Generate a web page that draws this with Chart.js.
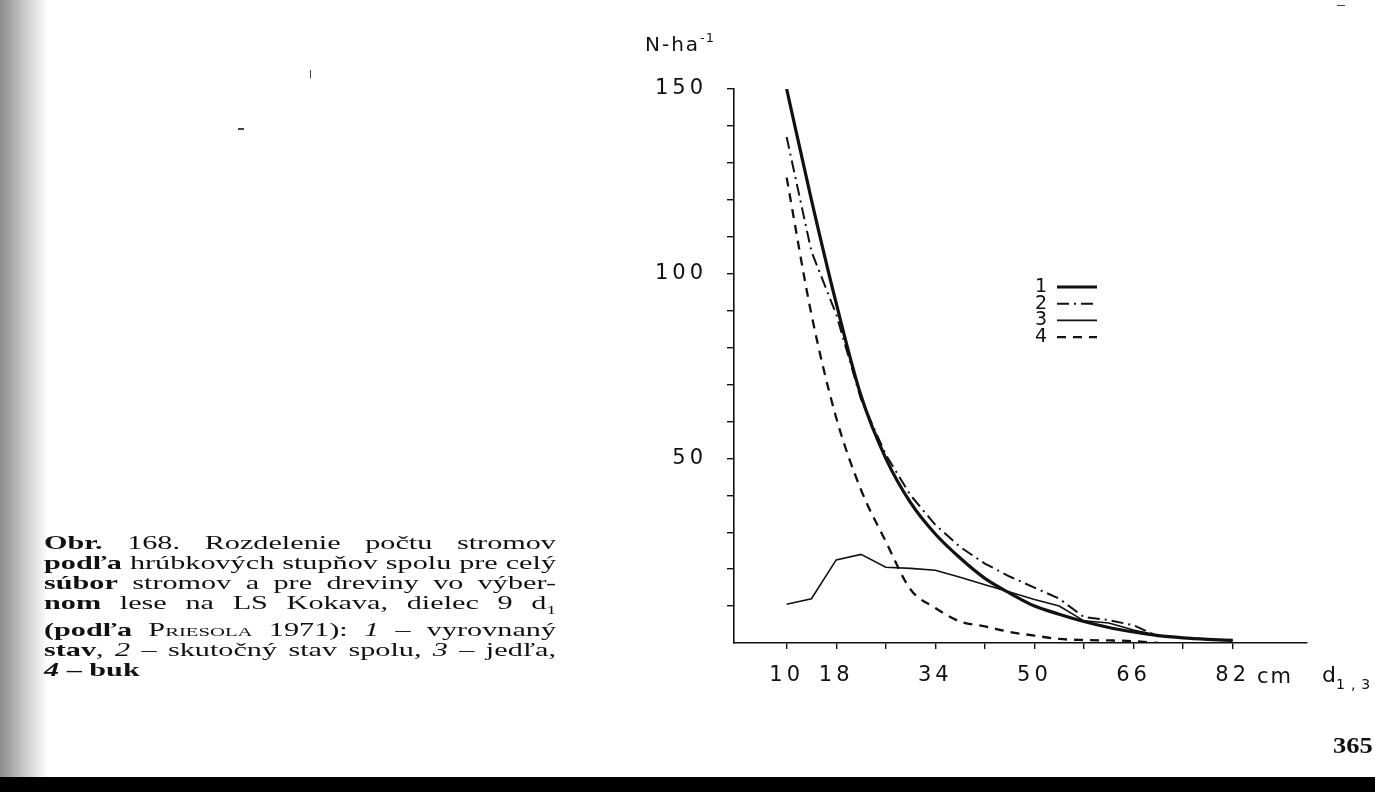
<!DOCTYPE html>
<html>
<head>
<meta charset="utf-8">
<script src="https://cdn.jsdelivr.net/npm/chart.js@4.4.1/dist/chart.umd.min.js"></script>
<style>
  html, body { margin: 0; padding: 0; background: #fff; }
  body { width: 1375px; height: 792px; position: relative; overflow: hidden; color: #111; font-family: "DejaVu Sans", sans-serif; }
  #scan { position: absolute; left: 0; top: 0; width: 48px; height: 777px;
          background: linear-gradient(to right, #8c8c8c 0, #a4a4a4 10px, #c4c4c4 22px, #e4e4e4 36px, #fff 48px); }
  #bar { position: absolute; left: 0; top: 777px; width: 1375px; height: 15px; background: #000; }
  #c { position: absolute; left: 0; top: 0; }
  .txt { position: absolute; white-space: nowrap; }
  #ytitle { left: 645px; top: 30px; font-size: 20px; letter-spacing: 2px; }
  #ytitle sup { font-size: 13px; vertical-align: 9px; letter-spacing: 1px; }
  #cm { left: 1257px; top: 664px; font-size: 21px; letter-spacing: 2px; }
  #dlab { left: 1322px; top: 662px; font-size: 22px; }
  #dlab sub { font-size: 14px; letter-spacing: 6px; vertical-align: -7px; }
  #page { left: 1333px; top: 733px; font: bold 23px "Liberation Serif", serif; transform: scaleX(1.15); transform-origin: 0 0; }
  #caption { position: absolute; left: 44px; top: 533px; transform-origin: 0 0;
             font-family: "Liberation Serif", serif; font-size: 19px; line-height: 20px; color: #111; }
  #caption div { text-align: justify; text-align-last: justify; }
  #caption div.last { text-align-last: left; }
  .sc { font-variant: small-caps; }
  .mark { position: absolute; background: #444; }
</style>
</head>
<body>
<div id="scan"></div>
<div id="bar"></div>
<canvas id="c" width="1375" height="792"></canvas>

<div class="txt" id="ytitle">N-ha<sup>-1</sup></div>
<div class="txt" id="cm">cm</div>
<div class="txt" id="dlab">d<sub>1,3</sub></div>
<div class="txt" id="page">365</div>
<div class="mark" style="left:310px;top:70px;width:1px;height:8px"></div>
<div class="mark" style="left:238px;top:128px;width:6px;height:1.5px"></div>
<div class="mark" style="left:1337px;top:5px;width:8px;height:1px"></div>

<div id="caption">
  <div><b>Obr.</b> 168. Rozdelenie počtu stromov</div>
  <div><b>podľa</b> hrúbkových stupňov spolu pre celý</div>
  <div><b>súbor</b> stromov a pre dreviny vo výber-</div>
  <div><b>nom</b> lese na LS Kokava, dielec 9 d<sub style="font-size:12px">1</sub></div>
  <div><b>(podľa</b> <span class="sc">Priesola</span> 1971): <i>1</i> – vyrovnaný</div>
  <div><b>stav</b>, <i>2</i> – skutočný stav spolu, <i>3</i> – jedľa,</div>
  <div class="last"><b><i>4</i> – buk</b></div>
</div>

<script>
// hrubkove stupne (cm) a pocty stromov na ha
const diameters = [10, 14, 18, 22, 26, 30, 34, 38, 42, 46, 50, 54, 58, 62, 66, 70, 74, 78, 82];
const xTicks = [10, 18, 26, 34, 42, 50, 58, 66, 74, 82];
const xLabels = [10, 18, 34, 50, 66, 82];
const yLabels = [50, 100, 150];
const seriesNames = ['1', '2', '3', '4'];

// 1 - vyrovnany stav
const balanced = [150, 120, 92, 67, 50, 38, 29.5, 23, 17.5, 13.5, 10, 7.8, 5.8, 4.2, 3, 2, 1.4, 1, 0.7];
// 2 - skutocny stav spolu
const actual = [137, 106, 89, 66, 51, 40, 32, 26, 21.5, 18, 15, 12, 7, 6.2, 4.8, 1.8];
// 3 - jedla
const fir = [10.5, 12, 22.5, 24, 20.5, 20.2, 19.7, 17.8, 15.8, 13.8, 11.8, 10, 6, 5.4, 3.5, 2, 1.4, 1, 0.7];
// 4 - buk
const beech = [126, 89, 61, 41.5, 27.5, 14.5, 9.5, 5.8, 4.5, 3, 2, 1.1, 0.8, 0.7, 0.5, 0];

const pts = vals => vals.map((v, i) => ({ x: diameters[i], y: v }));

// rozpisany popis - sirka bloku ako v originale
function fitCaption() {
  const cap = document.getElementById('caption');
  let w = 0;
  cap.querySelectorAll('div').forEach(d => {
    const s = document.createElement('span');
    s.style.whiteSpace = 'nowrap';
    s.innerHTML = d.innerHTML;
    d.innerHTML = '';
    d.appendChild(s);
    w = Math.max(w, s.getBoundingClientRect().width);
    d.innerHTML = s.innerHTML;
  });
  cap.style.width = Math.ceil(w + 1) + 'px';
  cap.style.transform = 'scaleX(' + (512 / Math.ceil(w + 1)) + ')';
}
fitCaption();

const spacingPlugin = {
  id: 'spacing',
  beforeDraw(chart) { chart.ctx.letterSpacing = '4px'; }
};

const numLegend = {
  id: 'numLegend',
  afterDraw(chart) {
    const ctx = chart.ctx;
    ctx.save();
    ctx.letterSpacing = '0px';
    ctx.font = '19px "DejaVu Sans"';
    ctx.fillStyle = '#111';
    ctx.textAlign = 'right';
    ctx.textBaseline = 'middle';
    chart.data.datasets.forEach((ds, i) => {
      const y = 287 + i * 16.7;
      ctx.fillText(ds.label, 1047, y);
      ctx.strokeStyle = '#111';
      ctx.lineWidth = ds.borderWidth;
      ctx.setLineDash(ds.borderDash || []);
      ctx.beginPath();
      ctx.moveTo(1057, y);
      ctx.lineTo(1097, y);
      ctx.stroke();
    });
    ctx.restore();
  }
};

const tickFont = { family: 'DejaVu Sans', size: 21 };

new Chart(document.getElementById('c'), {
  type: 'line',
  data: {
    datasets: [
      { label: seriesNames[0], data: pts(balanced), borderColor: '#111', borderWidth: 3.2, cubicInterpolationMode: 'monotone' },
      { label: seriesNames[1], data: pts(actual), borderColor: '#111', borderWidth: 2, borderDash: [12, 5, 2, 5] },
      { label: seriesNames[2], data: pts(fir), borderColor: '#111', borderWidth: 1.6 },
      { label: seriesNames[3], data: pts(beech), borderColor: '#111', borderWidth: 2.3, borderDash: [9, 7], cubicInterpolationMode: 'monotone' }
    ]
  },
  options: {
    responsive: false,
    animation: false,
    layout: { padding: { left: 0, top: 89, right: 68, bottom: 89 } },
    plugins: { legend: { display: false }, tooltip: { enabled: false } },
    elements: { point: { radius: 0 }, line: { fill: false } },
    scales: {
      x: {
        type: 'linear', min: 1.5, max: 94,
        afterBuildTicks: s => { s.ticks = xTicks.map(v => ({ value: v })); },
        afterFit: s => { s.height = 60; },
        grid: { drawOnChartArea: false, drawTicks: true, tickLength: 6, color: '#111', lineWidth: 1.4 },
        border: { display: true, color: '#111', width: 1.6 },
        ticks: { autoSkip: false, maxRotation: 0, padding: 14, color: '#111', font: tickFont,
                 callback: v => xLabels.includes(v) ? String(v) : '' }
      },
      y: {
        min: 0, max: 150,
        afterFit: s => { s.width = 734; },
        grid: { drawOnChartArea: false, drawTicks: true, tickLength: 7, color: '#111', lineWidth: 1.4 },
        border: { display: true, color: '#111', width: 1.6 },
        ticks: { stepSize: 10, padding: 20, color: '#111', font: tickFont,
                 callback: v => v === 0 ? null : (yLabels.includes(v) ? String(v) : '') }
      }
    }
  },
  plugins: [spacingPlugin, numLegend]
});
</script>
</body>
</html>
